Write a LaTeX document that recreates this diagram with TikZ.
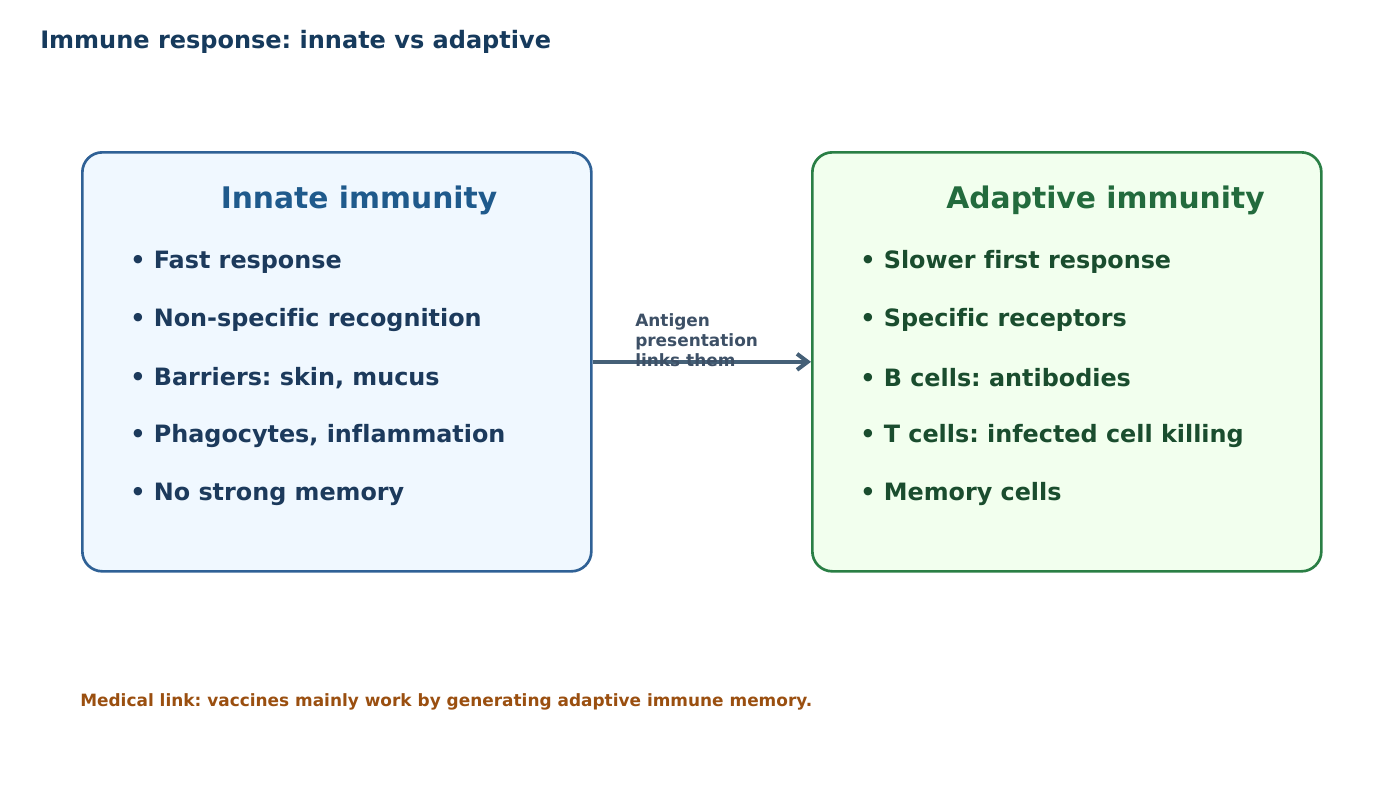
\documentclass[tikz,border=0pt]{standalone}
\usepackage{fontspec}
\setmainfont[Ligatures={NoCommon}]{DejaVu Sans}
\usetikzlibrary{arrows.meta}
\definecolor{titlec}{HTML}{163A5C}
\definecolor{bluestroke}{HTML}{2F6196}
\definecolor{bluefill}{HTML}{F0F8FF}
\definecolor{bluehead}{HTML}{1F5A8C}
\definecolor{bluetext}{HTML}{1C3A5C}
\definecolor{greenstroke}{HTML}{2A7F45}
\definecolor{greenfill}{HTML}{F2FFEE}
\definecolor{greenhead}{HTML}{236B3D}
\definecolor{greentext}{HTML}{1A4D2E}
\definecolor{arrowc}{HTML}{456077}
\definecolor{labelc}{HTML}{3D5066}
\definecolor{footc}{HTML}{9A4F10}
\frenchspacing
\begin{document}
\begin{tikzpicture}[x=0.75pt,y=-0.75pt,
  panel/.style={rounded corners=15pt, line width=2pt},
  headtxt/.style={font=\bfseries\fontsize{22.3pt}{26pt}\selectfont, inner sep=0pt},
  bullet/.style={font=\bfseries\fontsize{17.9pt}{21pt}\selectfont, inner sep=0pt, anchor=west},
  smalltxt/.style={font=\bfseries\fontsize{12.7pt}{15pt}\selectfont, inner sep=0pt},
]
\useasboundingbox (0,0) rectangle (1400,800);
\node[anchor=base west, inner sep=0pt, text=titlec, font=\bfseries\fontsize{18pt}{21pt}\selectfont] (title) at (40,48) {Immune response: innate vs adaptive};

\node[panel, draw=bluestroke, fill=bluefill, minimum width=509*0.75pt, minimum height=419*0.75pt, anchor=north west, inner sep=0pt] (innate) at (81,151) {};
\node[panel, draw=greenstroke, fill=greenfill, minimum width=509*0.75pt, minimum height=419*0.75pt, anchor=north west, inner sep=0pt] (adaptive) at (811,151) {};

\node[headtxt, text=bluehead] (ih) at (359,200) {Innate immunity};
\node[headtxt, text=greenhead] (ah) at (1105.5,200) {Adaptive immunity};

\foreach \t [count=\i] in {Fast response, Non-specific recognition, {Barriers: skin, mucus}, {Phagocytes, inflammation}, No strong memory}
  \node[bullet, text=bluetext] (ib\i) at (130,{262+58*(\i-1)}) {• \t};
\foreach \t [count=\i] in {Slower first response, Specific receptors, B cells: antibodies, T cells: infected cell killing, Memory cells}
  \node[bullet, text=greentext] (ab\i) at (860,{262+58*(\i-1)}) {• \t};

\draw[arrowc, line width=3pt, -{Straight Barb[length=8pt, width=12pt, line width=3pt]}] (innate.east) -- (adaptive.west);
\node[smalltxt, text=labelc, anchor=north west, align=left] (lab) at (635,313) {Antigen\\presentation\\links them};

\node[anchor=base west, inner sep=0pt, text=footc, font=\bfseries\fontsize{12.7pt}{15pt}\selectfont] (foot) at (80,706) {Medical link: vaccines mainly work by generating adaptive immune memory.};
\end{tikzpicture}
\end{document}
